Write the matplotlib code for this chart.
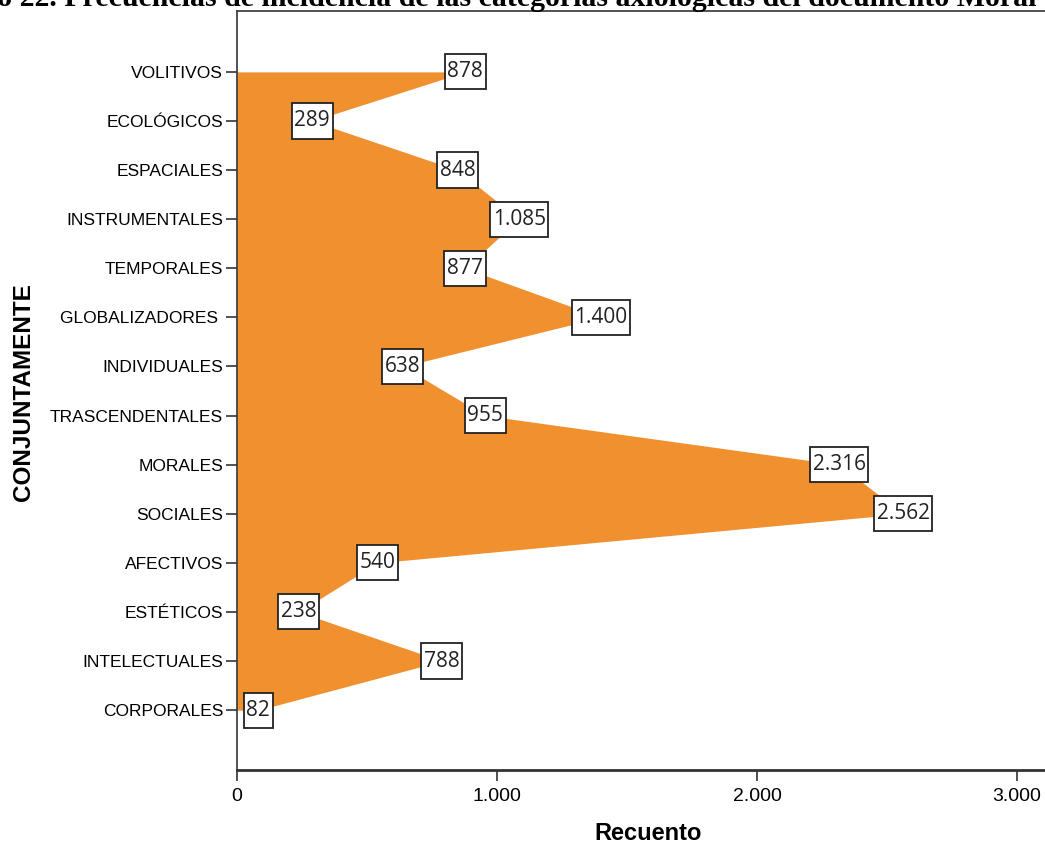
import matplotlib.pyplot as plt
from matplotlib import font_manager
from matplotlib.path import Path

# Data (bottom to top)
categories = [
    "CORPORALES", "INTELECTUALES", "ESTÉTICOS", "AFECTIVOS", "SOCIALES",
    "MORALES", "TRASCENDENTALES", "INDIVIDUALES", "GLOBALIZADORES ",
    "TEMPORALES", "INSTRUMENTALES", "ESPACIALES", "ECOLÓGICOS", "VOLITIVOS",
]
counts = [82, 788, 238, 540, 2562, 2316, 955, 638, 1400, 877, 1085, 848, 289, 878]
x_ticks = [0, 1000, 2000, 3000]
x_tick_labels = ["0", "1.000", "2.000", "3.000"]

title = ("Gráfico 22. Frecuencias de incidencia de las categorías "
         "axiológicas del documento Moral")

names = {f.name for f in font_manager.fontManager.ttflist}
narrow = "Liberation Sans Narrow" if "Liberation Sans Narrow" in names else "Liberation Sans"

fill_color = "#F0902F"


def tall_box(x0, y0, width, height, mutation_size):
    # square box with more room above/below than at the sides
    px, py = 0.13 * mutation_size, 0.34 * mutation_size
    x0, y0 = x0 - px, y0 - py
    x1, y1 = x0 + width + 2 * px, y0 + height + 2 * py
    return Path([(x0, y0), (x1, y0), (x1, y1), (x0, y1), (x0, y0)], closed=True)


fig = plt.figure(figsize=(10.45, 8.44), dpi=100)
ax = fig.add_axes([237 / 1045, 1 - 770 / 844, 823 / 1045, 759 / 844])

pos = list(range(len(categories)))
ax.fill_betweenx(pos, 0, counts, color=fill_color, linewidth=0)

for y, v in zip(pos, counts):
    label = f"{v:,}".replace(",", ".")
    ax.text(v, y, label, ha="center", va="center", fontsize=15,
            family="Open Sans", color="#222222",
            bbox=dict(boxstyle=tall_box, fc="white", ec="#222222", lw=1.3))

ax.set_xlim(0, 3165)
ax.set_ylim(-1.22, 14.24)

ax.set_yticks(pos)
ax.set_yticklabels(categories, family="Liberation Sans", fontsize=12.5)
ax.set_xticks(x_ticks)
ax.set_xticklabels(x_tick_labels, family=narrow, fontsize=14)
ax.tick_params(axis="both", direction="out", length=8, width=1.2, color="#333333")
ax.tick_params(axis="y", pad=2)
ax.tick_params(axis="x", pad=5)

for side in ["left", "bottom", "top", "right"]:
    ax.spines[side].set_color("#333333")
    ax.spines[side].set_linewidth(1.2)
ax.spines["bottom"].set_linewidth(2)

ax.set_xlabel("Recuento", family=narrow, fontsize=17, fontweight="bold", labelpad=12)
ax.set_ylabel("CONJUNTAMENTE", family="Liberation Sans", fontsize=17.5,
              fontweight="bold")
ax.yaxis.set_label_coords(-0.245, 0.498)

fig.text(1037 / 1045, 1 - 6 / 844, title, ha="right", va="baseline", fontsize=21.5,
         family="Liberation Serif", fontweight="bold")

fig.savefig("out.png", dpi=100)
